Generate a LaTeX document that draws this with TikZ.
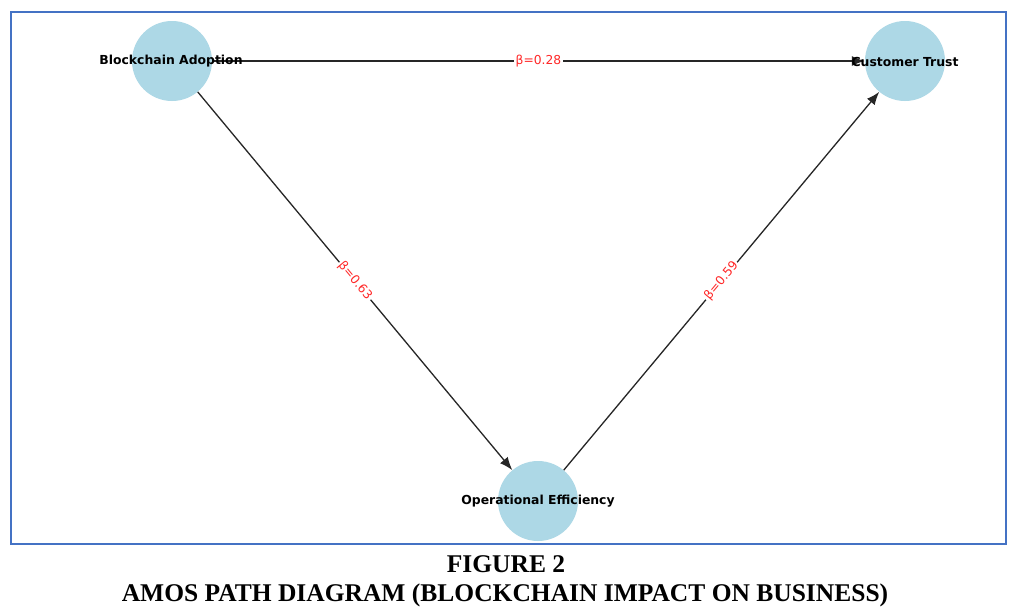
\documentclass[tikz,border=0pt]{standalone}
\usepackage{fontspec}
\setmainfont{Liberation Serif}
\newfontfamily\dejavu{DejaVu Sans}
\usetikzlibrary{arrows.meta}
\definecolor{nodeblue}{RGB}{173,216,230}
\definecolor{frameblue}{RGB}{68,114,196}
\definecolor{coefred}{RGB}{255,40,40}
\begin{document}
\begin{tikzpicture}[x=1pt,y=-1pt,
  var/.style={circle,fill=nodeblue,minimum size=80pt,inner sep=0pt},
  varlabel/.style={inner sep=0pt,font=\dejavu\bfseries\fontsize{12.4}{14}\selectfont},
  arrowpath/.style={draw=black!85,line width=1.3pt,-{Latex[length=13pt,width=10pt]}},
  coef/.style={midway,sloped,fill=white,inner sep=1.5pt,text=coefred,font=\dejavu\fontsize{12.3}{14}\selectfont},
  caption/.style={anchor=base,font=\bfseries\fontsize{25.5}{29}\selectfont}]
\useasboundingbox (0,0) rectangle (1018,616);
\fill[white] (0,0) rectangle (1018,616);
\draw[frameblue,line width=2pt] (11,12) rectangle (1006,544);
\node[var] (ba) at (172,61) {};
\node[var] (ct) at (905,61) {};
\node[var] (oe) at (538,501) {};
\draw[arrowpath] (ba) -- (ct) node[coef] {β=0.28};
\draw[arrowpath] (ba) -- (oe) node[coef] {β=0.63};
\draw[arrowpath] (oe) -- (ct) node[coef] {β=0.59};
\node[varlabel] (bal) at (171,61.5) {Blockchain Adoption};
\node[varlabel] (ctl) at (905,61.5) {Customer Trust};
\node[varlabel] (oel) at (538,501.5) {Operational Efficiency};
\node[caption] (cap1) at (506,572) {FIGURE 2};
\node[caption] (cap2) at (505,601) {AMOS PATH DIAGRAM (BLOCKCHAIN IMPACT ON BUSINESS)};
\end{tikzpicture}
\end{document}
